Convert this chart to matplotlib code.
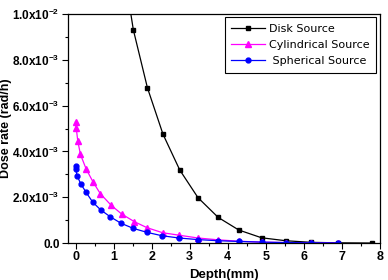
import matplotlib
matplotlib.use("Agg")
import matplotlib.pyplot as plt
from matplotlib.ticker import MultipleLocator, FixedLocator

plt.rcParams['font.family'] = ['Liberation Sans', 'DejaVu Sans']
plt.rcParams['mathtext.fontset'] = 'custom'
plt.rcParams['mathtext.rm'] = 'Liberation Sans:bold'
plt.rcParams['mathtext.bf'] = 'Liberation Sans:bold'
plt.rcParams['mathtext.default'] = 'bf'

# depth values (mm)
disk_x = [1.20, 1.52, 1.89, 2.30, 2.74, 3.22, 3.75, 4.29, 4.89, 5.53, 6.20, 6.89, 7.80]
disk_y = [0.0127, 0.00931, 0.00678, 0.00475, 0.00319, 0.00198, 0.00112, 0.00057,
          0.00023, 0.00010, 0.00003, 0.00001, 0.0]

cyl_x = [0.0, 0.02, 0.06, 0.13, 0.28, 0.46, 0.65, 0.93, 1.21, 1.55, 1.88, 2.29, 2.73,
         3.22, 3.75, 4.29, 4.89, 5.53, 6.20, 6.89]
cyl_y = [0.00530, 0.00501, 0.00445, 0.00387, 0.00323, 0.00267, 0.00216, 0.00166,
         0.00127, 0.00093, 0.00067, 0.00045, 0.00034, 0.00022, 0.00014, 0.00008,
         0.00004, 0.00002, 0.00001, 0.000005]

sph_x = [0.0, 0.01, 0.04, 0.14, 0.28, 0.45, 0.66, 0.91, 1.20, 1.52, 1.87, 2.27, 2.72,
         3.22, 3.75, 4.29, 4.89, 5.53, 6.20, 6.89]
sph_y = [0.00336, 0.00322, 0.00294, 0.00258, 0.00221, 0.00179, 0.00145, 0.00115,
         0.00086, 0.00064, 0.00047, 0.00032, 0.00022, 0.00015, 0.00010, 0.00007,
         0.00004, 0.00002, 0.00001, 0.000005]

y_ticks = [0.0, 0.002, 0.004, 0.006, 0.008, 0.010]
y_labels = ['0.0', '2.0x10$^{-3}$', '4.0x10$^{-3}$', '6.0x10$^{-3}$',
            '8.0x10$^{-3}$', '1.0x10$^{-2}$']

fig = plt.figure(figsize=(3.88, 2.8), dpi=100)
ax = fig.add_axes([0.175, 0.132, 0.804, 0.818])

ax.plot(disk_x, disk_y, color='black', marker='s', markersize=3.5, lw=0.9,
        label='Disk Source')
ax.plot(cyl_x, cyl_y, color='#ff00ff', marker='^', markersize=4, lw=0.9,
        label='Cylindrical Source')
ax.plot(sph_x, sph_y, color='#0000ff', marker='o', markersize=3.5, lw=0.9,
        label=' Spherical Source')

ax.set_xlim(-0.2, 8.0)
ax.set_ylim(0, 0.01)
ax.xaxis.set_major_locator(MultipleLocator(1))
ax.xaxis.set_minor_locator(MultipleLocator(0.5))
ax.yaxis.set_major_locator(FixedLocator(y_ticks))
ax.yaxis.set_minor_locator(MultipleLocator(0.001))
ax.set_yticklabels(y_labels)
for lab in ax.get_xticklabels():
    lab.set_fontweight('bold')
    lab.set_fontsize(9)
for lab in ax.get_yticklabels():
    lab.set_fontweight('bold')
    lab.set_fontsize(8.5)

ax.tick_params(which='both', direction='out', top=False, right=False, width=0.8)
ax.tick_params(which='major', length=4, pad=2)
ax.tick_params(which='minor', length=2.5)
for s in ax.spines.values():
    s.set_linewidth(0.9)

ax.set_xlabel('Depth(mm)', fontweight='bold', fontsize=9.5, labelpad=4)
ax.set_ylabel('Dose rate (rad/h)', fontweight='bold', fontsize=9)
ax.yaxis.set_label_coords(-0.18, 0.5)

leg = ax.legend(loc='upper right', prop={'family': 'DejaVu Sans', 'size': 8},
                frameon=True, fancybox=False, edgecolor='black', framealpha=1,
                borderpad=0.6, labelspacing=0.55, handlelength=3.0,
                handletextpad=0.35, borderaxespad=0,
                bbox_to_anchor=(0.987, 0.987))
leg.get_frame().set_linewidth(0.8)

fig.savefig('out.png', dpi=100)
